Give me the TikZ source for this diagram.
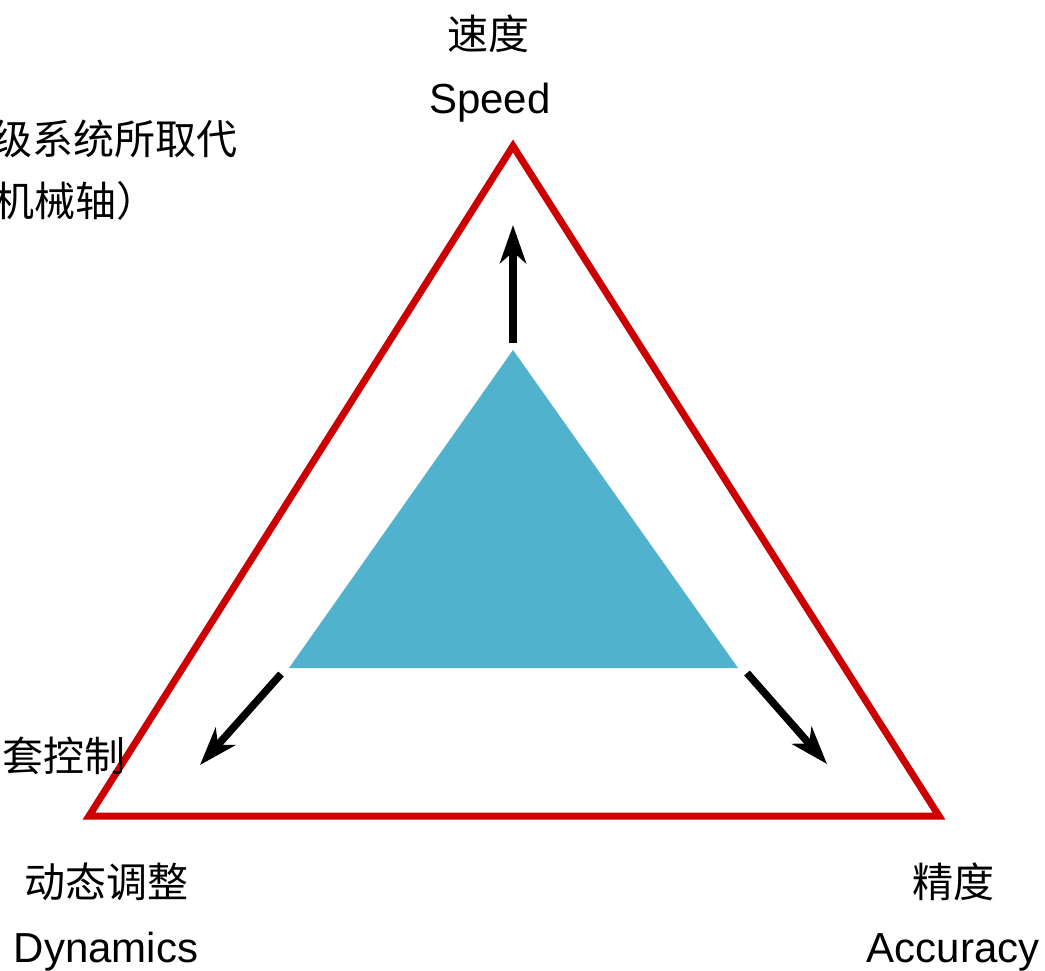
\documentclass[tikz,border=0pt]{standalone}
\usepackage{fontspec}
\setmainfont{Liberation Sans}
\newfontfamily\cjk{Noto Sans CJK SC}
\usetikzlibrary{arrows.meta}
\definecolor{tri}{RGB}{204,0,0}
\definecolor{core}{RGB}{81,178,205}
\tikzset{
  en/.style={inner sep=0pt, anchor=base, font=\fontsize{42}{50}\selectfont},
  zh/.style={inner sep=0pt, anchor=base, font=\cjk\fontsize{41}{49}\selectfont},
  outer/.style={draw=tri, line width=7pt, line join=miter},
  inner/.style={fill=core},
  push/.style={line width=7.5pt, -{Stealth[length=38pt,width=26pt,inset=11pt]}}
}
\begin{document}
\begin{tikzpicture}[x=1pt,y=-1pt]
\clip (0,0) rectangle (1045,970);
\fill[white] (0,0) rectangle (1045,970);
% outer triangle
\coordinate (A) at (513,146);
\coordinate (L) at (89,816);
\coordinate (R) at (939,816);
\draw[outer] (L) -- (A) -- (R) -- cycle;
% inner triangle
\coordinate (a) at (513,350);
\coordinate (l) at (289,668);
\coordinate (r) at (738,668);
\fill[inner] (l) -- (a) -- (r) -- cycle;
% arrows
\coordinate (u0) at (513,343);
\coordinate (u1) at (513,225);
\coordinate (l0) at (281,674);
\coordinate (l1) at (200,765);
\coordinate (r0) at (747,673);
\coordinate (r1) at (827,764);
\draw[push] (u0) -- (u1);
\draw[push] (l0) -- (l1);
\draw[push] (r0) -- (r1);
% labels
\node[zh] (sdz) at (488,49) {速度};
\node[en] (sde) at (490,113) {Speed};
\node[zh] (dtz) at (106,897) {动态调整};
\node[en] (dte) at (106,962) {Dynamics};
\node[zh] (jdz) at (953,897) {精度};
\node[en] (jde) at (953,962) {Accuracy};
\node[zh, anchor=base east] (n1) at (238,154) {级系统所取代};
\node[zh, anchor=base east] (n2) at (158,216) {（机械轴）};
\node[zh, anchor=base west] (n3) at (2,771) {套控制};
\end{tikzpicture}
\end{document}
